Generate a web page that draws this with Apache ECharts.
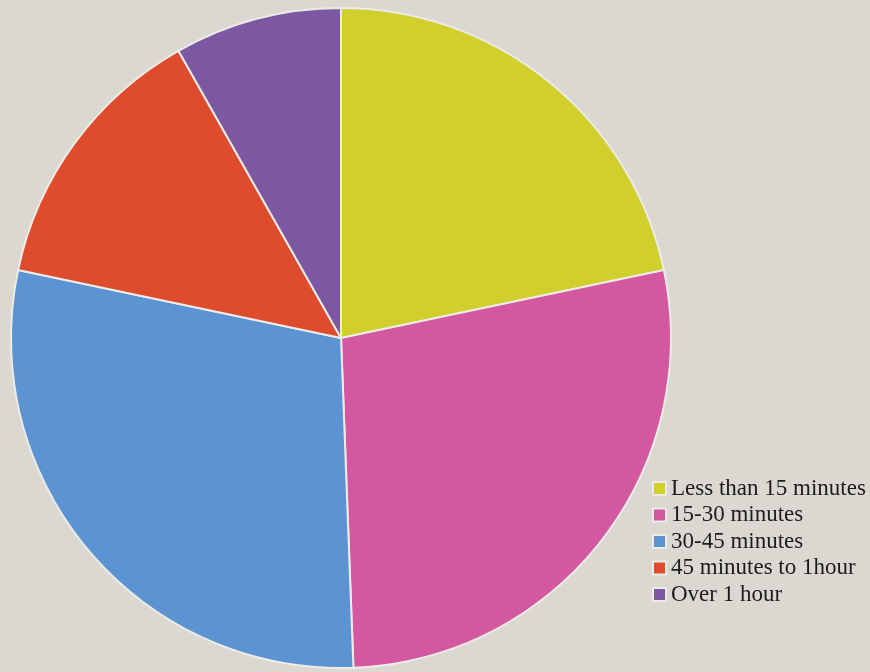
<!DOCTYPE html>
<html>
<head>
<meta charset="utf-8">
<script src="https://cdn.jsdelivr.net/npm/echarts@6/dist/echarts.min.js"></script>
<style>
html,body{margin:0;padding:0;background:#dad8d1;}
#pie-chart{width:870px;height:672px;}
</style>
</head>
<body>
<div id="pie-chart"></div>
<script>
//数据
var categories=['Less than 15 minutes','15-30 minutes','30-45 minutes','45 minutes to 1hour','Over 1 hour'];
var shares=[21.7,27.7,28.9,13.5,8.2];
var sliceColors=['#d0cf2c','#d4589f','#5b93d3','#de4b2d','#7c57a2'];

//绘制饼图
var drawPie=function () {
	var myChart = echarts.init(document.getElementById('pie-chart'));
	var pieData=[];
	for(var i=0;i<categories.length;i++){
		pieData.push({name:categories[i],value:shares[i]});
	}
	var option = {
		backgroundColor:'#dad8d1',
		animation:false,
		color:sliceColors,
		legend: {
			orient:'vertical',
			left:652,
			top:477,
			padding:0,
			itemWidth:13,
			itemHeight:13,
			itemGap:3.5,
			itemTextGap:3,
			icon:'rect',
			textStyle:{
				color:'#1c1c1c',
				fontFamily:'Liberation Serif',
				fontSize:23,
				lineHeight:22
			},
			data:categories
		},
		series: [
			{
				name:'time',
				type:'pie',
				center:[341,338],
				radius:[0,330],
				startAngle:90,
				clockwise:true,
				label:{show:false},
				labelLine:{show:false},
				itemStyle:{
					borderColor:'#ecebe6',
					borderWidth:2
				},
				data:pieData
			}
		]
	};
	// 使用刚指定的配置项和数据显示图表。
	myChart.setOption(option);
};
drawPie();
</script>
</body>
</html>
